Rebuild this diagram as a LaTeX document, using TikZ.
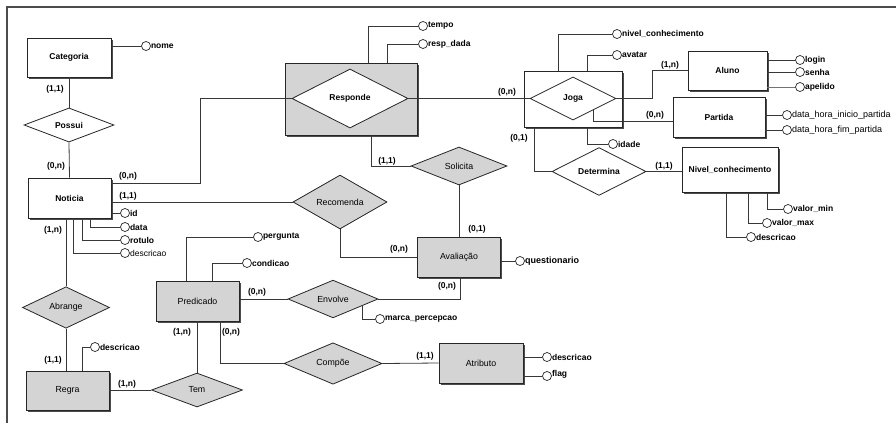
\documentclass[tikz,border=0pt]{standalone}
\usepackage{fontspec}
\setmainfont{Liberation Sans}
\usetikzlibrary{shapes.geometric,shadows,calc}
\definecolor{boxgray}{RGB}{212,212,212}
\definecolor{linec}{RGB}{55,55,55}
\begin{document}
\begin{tikzpicture}[x=1pt,y=-1pt,
 conn/.style={draw=linec,line width=0.8pt},
 frame/.style={draw=black!70,line width=1.2pt},
 entw/.style={rectangle,draw=black!85,line width=0.8pt,fill=white,inner sep=0pt,
   drop shadow={shadow xshift=1.6pt,shadow yshift=-1.6pt,fill=black!70,opacity=1},
   font=\fontsize{8.5}{9}\selectfont\bfseries},
 entg/.style={entw,fill=boxgray,font=\fontsize{8.8}{9}\selectfont},
 relw/.style={diamond,draw=black!85,line width=0.8pt,fill=white,inner sep=0pt,
   font=\fontsize{8.5}{9}\selectfont\bfseries},
 relg/.style={relw,fill=boxgray,font=\fontsize{8.8}{9}\selectfont},
 attr/.style={circle,draw=black!85,line width=0.7pt,fill=white,minimum size=9pt,inner sep=0pt,label distance=1.5pt},
 atxt/.style={font=\fontsize{8.5}{9}\selectfont\bfseries,inner sep=0pt},
 atxr/.style={font=\fontsize{9}{9}\selectfont,inner sep=0pt},
 card/.style={font=\fontsize{8.5}{9}\selectfont\bfseries,inner sep=0pt},
]
\useasboundingbox (0,0) rectangle (896,423);
\draw[frame] (7,423) -- (7,7) -- (896,7);

% entities and relationships
\node[entw,minimum width=84pt,minimum height=39pt] (cat) at (69,57.5) {Categoria};
\node[relw,minimum width=90pt,minimum height=34pt] (possui) at (69,125) {Possui};
\node[entw,minimum width=83pt,minimum height=40pt] (not) at (69.5,198) {Noticia};
\node[relg,minimum width=87pt,minimum height=30pt] (abr) at (66,307.5) {Abrange};
\node[entg,minimum width=83pt,minimum height=39pt] (regra) at (67.5,390.5) {Regra};
\node[relg,minimum width=91pt,minimum height=34pt] (tem) at (197,390) {Tem};
\node[entg,minimum width=83pt,minimum height=40pt] (pred) at (197.5,301) {Predicado};
\node[relg,minimum width=90pt,minimum height=36pt] (env) at (333,299) {Envolve};
\node[relg,minimum width=98pt,minimum height=35pt] (comp) at (333,363.5) {Compõe};
\node[entg,minimum width=84pt,minimum height=40pt] (atr) at (481,363) {Atributo};
\node[entg,minimum width=83pt,minimum height=40pt] (aval) at (459,257) {Avaliação};
\node[relg,minimum width=94pt,minimum height=35pt] (rec) at (340,202) {Recomenda};
\node[relg,minimum width=96pt,minimum height=38pt] (sol) at (459,166) {Solicita};
\node[entg,minimum width=132pt,minimum height=72pt] (respbox) at (351,99) {};
\node[relw,minimum width=116pt,minimum height=59pt] (resp) at (350,98.5) {Responde};
\node[entw,minimum width=98pt,minimum height=56pt] (jogabox) at (573,99.5) {};
\node[relw,minimum width=86pt,minimum height=43pt] (joga) at (573,98.5) {Joga};
\node[entw,minimum width=79pt,minimum height=39pt] (aluno) at (727.5,70.5) {Aluno};
\node[entw,minimum width=92pt,minimum height=40pt] (partida) at (719,117) {Partida};
\node[relw,minimum width=94pt,minimum height=35pt] (det) at (599,171.5) {Determina};
\node[entw,minimum width=96pt,minimum height=45pt] (nivel) at (730,170) {Nivel\_conhecimento};

% attributes
\node[attr,label={[atxt]right:nome}] (nome) at (146,46) {};
\node[attr,label={[atxt]right:tempo}] (tempo) at (423,26) {};
\node[attr,label={[atxt]right:resp\_dada}] (rdada) at (423,44) {};
\node[attr,label={[atxt]right:nivel\_conhecimento}] (nca) at (617,34) {};
\node[attr,label={[atxt]right:avatar}] (avatar) at (617,55) {};
\node[attr,label={[atxt]right:idade}] (idade) at (613,144) {};
\node[attr,label={[atxt]right:login}] (login) at (800,60) {};
\node[attr,label={[atxt]right:senha}] (senha) at (800,72) {};
\node[attr,label={[atxt]right:apelido}] (apelido) at (800,87) {};
\node[attr,label distance=6.5pt,label={[atxr]right:data\_hora\_inicio\_partida}] (dhi) at (787,115) {};
\node[attr,label distance=6.5pt,label={[atxr]right:data\_hora\_fim\_partida}] (dhf) at (787,130) {};
\node[attr,label={[atxt]right:valor\_min}] (vmin) at (788,209) {};
\node[attr,label={[atxt]right:valor\_max}] (vmax) at (767,223) {};
\node[attr,label={[atxt]right:descricao}] (ndesc) at (751,237) {};
\node[attr,label={[atxt,font=\fontsize{9}{9}\selectfont\bfseries]right:questionario}] (quest) at (520,261) {};
\node[attr,label={[atxt]right:id}] (id) at (125,213) {};
\node[attr,label={[atxt]right:data}] (data) at (125,227) {};
\node[attr,label={[atxt]right:rotulo}] (rotulo) at (125,240) {};
\node[attr,label={[atxr,font=\fontsize{8.5}{9}\selectfont]right:descricao}] (notdesc) at (125,253) {};
\node[attr,label={[atxt]right:pergunta}] (perg) at (258,237) {};
\node[attr,label={[atxt]right:condicao}] (cond) at (247,263) {};
\node[attr,label={[atxt]right:marca\_percepcao}] (marca) at (380,319) {};
\node[attr,label={[atxt]right:descricao}] (rdesc) at (95,347) {};
\node[attr,label={[atxt]right:descricao}] (adesc) at (547,357) {};
\node[attr,label={[atxt,yshift=2pt]right:flag}] (flag) at (547,376) {};

% connectors
\path[conn] (cat.south) -- (possui.north);
\path[conn] (possui.south) -- (not.north);
\path[conn] ([yshift=15pt]not.east) -- ++(89,0) |- (resp.west);
\path[conn] (rec.west) -- (rec.west -| not.east);
\path[conn] (rec.south) |- (aval.west);
\path[conn] (sol.west) -| ([xshift=20pt]respbox.south);
\path[conn] (sol.south) -- (aval.north);
\path[conn] (env.east) -| ([xshift=1pt]aval.south);
\path[conn] (env.west) -- (env.west -| pred.east);
\path[conn] (tem.north) -- (tem.north |- pred.south);
\path[conn] (comp.west) -| ([xshift=22.5pt]pred.south);
\path[conn] (comp.east) -- (atr.west);
\path[conn] (tem.west) -- (tem.west -| regra.east);
\path[conn] (abr.north) -- (abr.north |- not.south);
\path[conn] (abr.south) -- (abr.south |- regra.north);
\path[conn] (resp.east) -- (joga.west);
\path[conn] (joga.east) -- ++(36,0) |- (aluno.west);
\path[conn] ($(joga.east)!0.53!(joga.south)$) |- ([yshift=-4pt]partida.west);
\path[conn] (det.west) -| ([xshift=-39pt]jogabox.south);
\path[conn] (det.east) -- (det.east -| nivel.west);

\path[conn] (nome.west) -- (nome.west -| cat.east);
\path[conn] (tempo.west) -| ([xshift=17pt]respbox.north);
\path[conn] (rdada.west) -| ([xshift=36pt]respbox.north);
\path[conn] (nca.west) -| ([xshift=-15pt]jogabox.north);
\path[conn] (avatar.west) -| ([xshift=14pt]jogabox.north);
\path[conn] (idade.west) -| ([xshift=14pt]jogabox.south);
\path[conn] (login.west) -- (login.west -| aluno.east);
\path[conn] (senha.west) -- (senha.west -| aluno.east);
\path[conn,draw=black!55] (apelido.west) -- (apelido.west -| aluno.east);
\path[conn] (dhi.west) -- (dhi.west -| partida.east);
\path[conn] (dhf.west) -- (dhf.west -| partida.east);
\path[conn] (vmin.west) -| ([xshift=37pt]nivel.south);
\path[conn] (vmax.west) -| ([xshift=18pt]nivel.south);
\path[conn] (ndesc.west) -| ([xshift=-4pt]nivel.south);
\path[conn] (quest.west) -- (quest.west -| aval.east);
\path[conn] (id.west) -- (id.west -| not.east);
\path[conn] (data.west) -| ([xshift=20.5pt]not.south);
\path[conn] (rotulo.west) -| ([xshift=12.5pt]not.south);
\path[conn] (notdesc.west) -| ([xshift=3.5pt]not.south);
\path[conn] (perg.west) -| ([xshift=-11.5pt]pred.north);
\path[conn] (cond.west) -| ([xshift=14.5pt]pred.north);
\path[conn] ($(env.east)!0.36!(env.south)$) |- (marca.west);
\path[conn] (rdesc.west) -| ([xshift=14.5pt]regra.north);
\path[conn] (adesc.west) -- (adesc.west -| atr.east);
\path[conn] (flag.west) -- (flag.west -| atr.east);

% cardinalities
\node[card] at (55,89) {(1,1)};
\node[card] at (56,166) {(0,n)};
\node[card] at (128,176) {(0,n)};
\node[card] at (128,196) {(1,1)};
\node[card] at (53,230) {(1,n)};
\node[card] at (53,360) {(1,1)};
\node[card] at (127,384) {(1,n)};
\node[card] at (182,332) {(1,n)};
\node[card] at (231,332) {(0,n)};
\node[card] at (257,292) {(0,n)};
\node[card] at (399,249) {(0,n)};
\node[card] at (447,286) {(0,n)};
\node[card] at (477,229) {(0,1)};
\node[card] at (387,161) {(1,1)};
\node[card] at (425,356) {(1,1)};
\node[card] at (507,92) {(0,n)};
\node[card] at (519,138) {(0,1)};
\node[card] at (670,65) {(1,n)};
\node[card] at (655,115) {(0,n)};
\node[card] at (664,166) {(1,1)};
\end{tikzpicture}
\end{document}
